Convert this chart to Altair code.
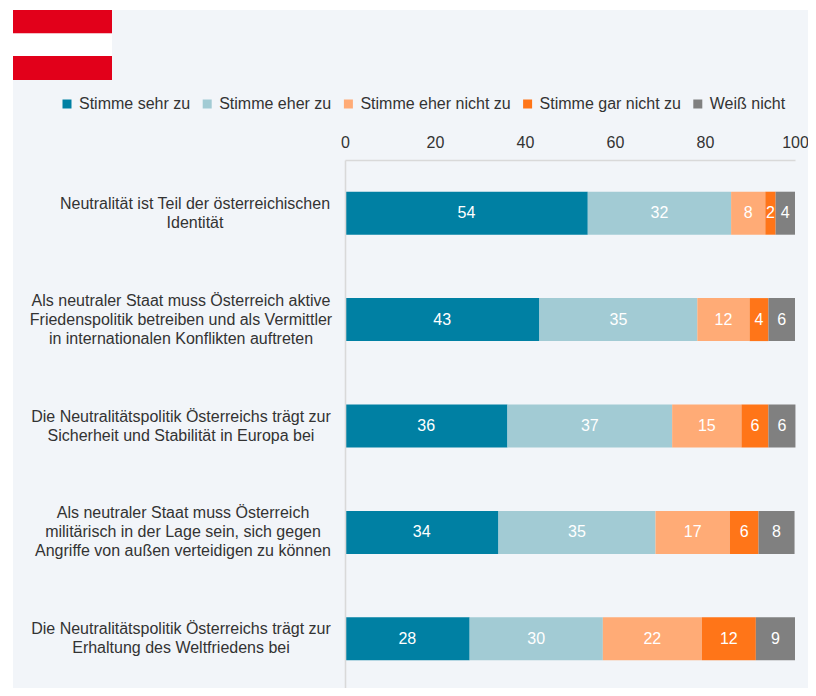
import altair as alt
import pandas as pd

categories = [
    "Neutralität ist Teil der österreichischen\nIdentität",
    "Als neutraler Staat muss Österreich aktive\nFriedenspolitik betreiben und als Vermittler\nin internationalen Konflikten auftreten",
    "Die Neutralitätspolitik Österreichs trägt zur\nSicherheit und Stabilität in Europa bei",
    "Als neutraler Staat muss Österreich\nmilitärisch in der Lage sein, sich gegen\nAngriffe von außen verteidigen zu können",
    "Die Neutralitätspolitik Österreichs trägt zur\nErhaltung des Weltfriedens bei",
]
series = ["Stimme sehr zu", "Stimme eher zu", "Stimme eher nicht zu", "Stimme gar nicht zu", "Weiß nicht"]
colors = ["#0080A3", "#A2CBD4", "#FFAB76", "#FF7518", "#808080"]
sehr = [53.95, 43.2, 36.1, 34.1, 27.7]
eher = [31.85, 35.1, 36.6, 34.9, 29.6]
eher_nicht = [7.6, 11.6, 15.4, 16.5, 22.0]
gar_nicht = [2.3, 4.2, 6.0, 6.4, 12.0]
weiss = [4.3, 5.9, 6.0, 8.0, 8.7]
label_centers = [195, 181, 181, 183, 181]

rows = []
for i, c in enumerate(categories):
    for j, vals in enumerate([sehr, eher, eher_nicht, gar_nicht, weiss]):
        rows.append({"cat": c, "s": series[j], "o": j, "v": vals[i]})
df = pd.DataFrame(rows)

FONT = "Liberation Sans"
FS = 16
TEXT = "#333333"
one = alt.Data(values=[{"a": 1}])

def box(x, x2, y, y2, col):
    return alt.Chart(one).mark_rect(color=col).encode(
        x=alt.value(x), x2=alt.value(x2), y=alt.value(y), y2=alt.value(y2))

bg = box(-332, 471, -150, 536, "#F2F5F9")
flag = [box(-332, -233, -150, -126.5, "#E2001A"),
        box(-332, -233, -126.5, -104, "#FFFFFF"),
        box(-332, -233, -104, -80, "#E2001A")]

yenc = alt.Y("cat:N", sort=categories, title=None,
             scale=alt.Scale(domain=categories, range=[0, 532], paddingInner=0, paddingOuter=0),
             axis=alt.Axis(labels=False, ticks=False, domainColor="#D9D9D9", domainWidth=1.6,
                           grid=False, zindex=1))

base = alt.Chart(df).transform_stack(
    stack="v", groupby=["cat"], sort=[alt.SortField("o", order="ascending")], as_=["a", "b"]
).transform_calculate(mid="(datum.a + datum.b) / 2")

bars = base.mark_bar(size=43).encode(
    x=alt.X("a:Q", title=None, scale=alt.Scale(domain=[0, 100], nice=False),
            axis=alt.Axis(orient="top", values=[0, 20, 40, 60, 80, 100], ticks=False, grid=False,
                          domainColor="#D9D9D9", domainWidth=1.6, labelPadding=10, zindex=1,
                          labelFont=FONT, labelFontSize=FS, labelColor=TEXT, labelFlush=False)),
    x2="b:Q",
    y=yenc,
    color=alt.Color("s:N", sort=series, scale=alt.Scale(domain=series, range=colors),
                    legend=alt.Legend(title=None, orient="none", legendX=-286, legendY=-64, columns=5,
                                      direction="horizontal", symbolType="square", symbolSize=81,
                                      symbolStrokeWidth=0, labelFont=FONT, labelFontSize=FS,
                                      labelColor=TEXT, labelOffset=4, columnPadding=8.2, labelLimit=300)),
)

values = base.mark_text(font=FONT, fontSize=FS, color="#FFFFFF", baseline="middle").encode(
    x=alt.X("mid:Q"),
    y=alt.Y("cat:N", sort=categories),
    text=alt.Text("v:Q", format=".0f"),
)

cat_labels = []
for c, center in zip(categories, label_centers):
    lines = c.split("\n")
    d = pd.DataFrame({"cat": [c], "lines": [lines]})
    cat_labels.append(
        alt.Chart(d).mark_text(font=FONT, fontSize=FS, color=TEXT, align="center",
                               baseline="middle", lineHeight=19,
                               dy=-(len(lines) - 1) * 9.5).encode(
            x=alt.value(center - 345),
            y=alt.Y("cat:N", sort=categories),
            text="lines",
        )
    )

chart = alt.layer(bg, *flag, bars, values, *cat_labels).properties(
    width=450, height=528,
    autosize=alt.AutoSizeParams(type="none"),
    padding={"left": 337, "top": 152, "right": 13, "bottom": 0},
    background="#FFFFFF",
).configure_view(stroke=None)

chart.save("out.html", embed_options={"renderer": "svg", "actions": False})
